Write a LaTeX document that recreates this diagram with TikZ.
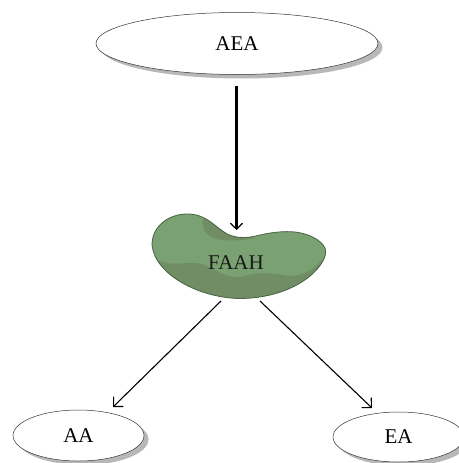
\documentclass[tikz,border=0pt]{standalone}
\usepackage{fontspec}
\setmainfont{Liberation Serif}
\usetikzlibrary{arrows.meta,shadows,shapes.geometric}
\definecolor{beangreen}{RGB}{122,161,113}
\definecolor{beanshade}{RGB}{112,141,101}
\definecolor{beanline}{RGB}{72,100,66}
\tikzset{
  substrate/.style={ellipse, draw=black!80, line width=0.5pt, fill=white, inner sep=0pt,
    drop shadow={shadow xshift=4.5pt, shadow yshift=-4pt, fill=black!28, opacity=1}},
  label/.style={font=\fontsize{21}{24}\selectfont, inner sep=0pt},
  arrowline/.style={-{Straight Barb[length=7pt,width=14pt,angle'=90]}, line width=1.1pt, black},
}
\begin{document}
\begin{tikzpicture}[x=1pt, y=-1pt]
      \def\beanpath{(152,245) .. controls (152,225) and (170,214) .. (187,214)
        .. controls (205,214) and (212,224) .. (224,232)
        .. controls (232,238) and (245,239) .. (258,235.5)
        .. controls (272,232) and (285,231) .. (295,232)
        .. controls (312,234) and (326,243) .. (325.7,252)
        .. controls (325,268) and (295,298) .. (240,298.5)
        .. controls (200,298) and (155,275) .. (152,245) -- cycle};
      \useasboundingbox (0,0) rectangle (458,463);
      %
      \node[substrate, minimum width=282pt, minimum height=62pt] (aea) at (237,43.5) {};   % top ellipse
      \node[label] at (aea) {AEA};
      %
      \node[substrate, minimum width=131pt, minimum height=51pt] (aa) at (78.5,435.5) {};  % left ellipse
      \node[label] at (aa) {AA};
      %
      \node[substrate, minimum width=131pt, minimum height=50pt] (ea) at (398.5,437) {};   % right ellipse
      \node[label] at (ea) {EA};
      %
      \fill[beangreen] \beanpath;
      \begin{scope}
        \clip \beanpath;
        % lower shade
        \fill[beanshade] (150,256) .. controls (165,268) and (185,262) .. (195,263)
          .. controls (212,264) and (220,278) .. (240,277)
          .. controls (260,271) and (270,273) .. (290,276)
          .. controls (305,276) and (322,265) .. (328,250) -- (328,300) -- (150,300) -- cycle;
        % shade under the notch
        \fill[beanshade] (203,219) .. controls (200,232) and (212,238) .. (217,239)
          .. controls (225,241) and (240,241) .. (255,238)
          -- (230,232) -- (212,218) -- cycle;
      \end{scope}
      \draw[beanline, line width=0.8pt] \beanpath;
      \node[label, text=black!90] (faah) at (236,263) {FAAH};
      %
      \coordinate (aeaout) at (236.5,86);
      \coordinate (faahin) at (236.5,230);
      \coordinate (faahleft) at (221,301);
      \coordinate (aain) at (113,407);
      \coordinate (faahright) at (260,301);
      \coordinate (eain) at (372,408);
      %
      \draw[arrowline, line width=2.2pt, -{Straight Barb[length=6pt,width=13pt,angle'=90,line width=1.1pt]}] (aeaout) -- (faahin);
      \draw[arrowline] (faahleft) -- (aain);
      \draw[arrowline] (faahright) -- (eain);
      %
    \end{tikzpicture}
\end{document}
